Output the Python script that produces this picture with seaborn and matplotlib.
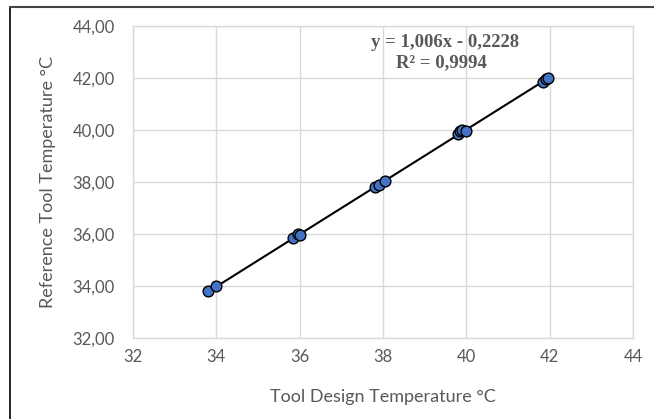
import matplotlib.pyplot as plt
import seaborn as sns
import numpy as np
import pandas as pd
from matplotlib.lines import Line2D
from matplotlib.ticker import FuncFormatter

# values
design_temp = [33.8, 34.0, 35.85, 35.95, 36.0, 37.8, 37.9, 38.05,
               39.8, 39.85, 39.9, 40.0, 41.85, 41.9, 41.95]
reference_temp = [33.8, 34.0, 35.85, 36.0, 35.95, 37.8, 37.9, 38.05,
                  39.85, 39.95, 40.0, 39.95, 41.85, 41.95, 42.0]
slope = 1.006
intercept = -0.2228
r_squared = 0.9994
x_ticks = [32, 34, 36, 38, 40, 42, 44]
y_ticks = [32, 34, 36, 38, 40, 42, 44]

df = pd.DataFrame({'design': design_temp, 'reference': reference_temp})

sns.set_theme(style='whitegrid')
plt.rcParams['font.family'] = ['Lato', 'DejaVu Sans']

fig = plt.figure(figsize=(6.54, 4.19), dpi=100)
ax = fig.add_axes([0.2034, 0.193, 0.7646, 0.745])

grey = '#595959'
grid_col = '#d9d9d9'

# trendline
xs = np.array([min(design_temp), max(design_temp)])
ax.plot(xs, slope * xs + intercept, color='black', lw=1.5, zorder=2)

sns.scatterplot(data=df, x='design', y='reference', ax=ax, s=60,
                color='#4472C4', edgecolor='black', linewidth=1.0, zorder=3)

ax.set_xlim(32, 44)
ax.set_ylim(32, 44)
ax.set_xticks(x_ticks)
ax.set_yticks(y_ticks)
ax.yaxis.set_major_formatter(FuncFormatter(lambda v, p: f'{v:.2f}'.replace('.', ',')))
ax.xaxis.set_major_formatter(FuncFormatter(lambda v, p: f'{v:.0f}'))
ax.grid(True, color=grid_col, lw=1.0)
for s in ax.spines.values():
    s.set_color(grid_col)
    s.set_linewidth(1.0)
ax.tick_params(axis='y', colors=grey, labelsize=12, length=0, pad=13)
ax.tick_params(axis='x', colors=grey, labelsize=12, length=0, pad=8)

ax.set_xlabel('Tool Design Temperature °C', color=grey, fontsize=13, labelpad=17)
ax.set_ylabel('Reference Tool Temperature °C', color=grey, fontsize=13, labelpad=12)

eq = f'y = {slope:.3f}x - {abs(intercept):.4f}'.replace('.', ',')
r2 = f'R² = {r_squared:.4f}'.replace('.', ',')
ax.text(39.5, 43.35, eq, ha='center', va='center', fontsize=13.5, fontweight='bold',
        color=grey, family='Liberation Serif')
ax.text(39.4, 42.6, r2, ha='center', va='center', fontsize=13.5, fontweight='bold',
        color=grey, family='Liberation Serif')

# outer frame (left and top edges visible)
fig.add_artist(Line2D([10 / 654, 10 / 654], [0, 1 - 7 / 419], color='black', lw=1.2,
                      transform=fig.transFigure))
fig.add_artist(Line2D([10 / 654, 1], [1 - 7 / 419, 1 - 7 / 419], color='#444444', lw=1.5,
                      transform=fig.transFigure))

fig.savefig('out.png', dpi=100)
plt.close(fig)
